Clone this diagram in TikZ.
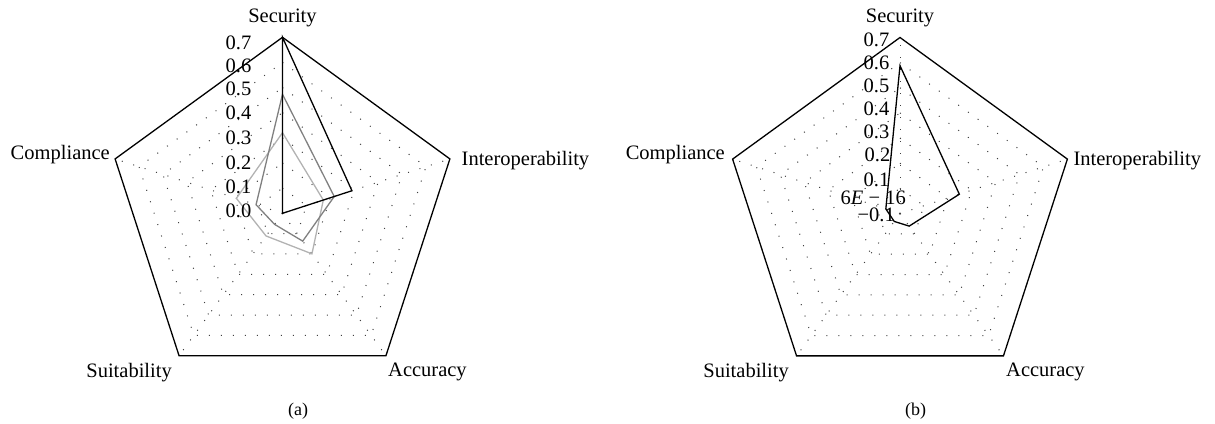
\documentclass[tikz,border=0pt]{standalone}
\usepackage{fontspec}
\setmainfont{Liberation Serif}
\usetikzlibrary{calc}
\tikzset{
  outer/.style={line width=1.3pt, black, line join=miter},
  gridline/.style={line width=1pt, dash pattern=on 1pt off 11pt, black!75},
  axlbl/.style={font=\fontsize{20.5}{24}\selectfont, inner sep=0pt},
  ticklbl/.style={font=\fontsize{20.5}{24}\selectfont, inner sep=0pt, anchor=east},
  caplbl/.style={font=\fontsize{18}{21}\selectfont, inner sep=0pt},
  serblack/.style={line width=1.3pt, black, line join=miter},
  serdark/.style={line width=1.3pt, black!50, line join=miter},
  serlight/.style={line width=1.3pt, black!30, line join=miter},
}
\begin{document}
\begin{tikzpicture}[x=1pt,y=1pt]
\useasboundingbox (0,-423) rectangle (1215,0);
\def\R{176}
\coordinate (A) at (282.5,-213.3);
\coordinate (B) at (900,-213.5);
\foreach \c in {A,B}{
  \foreach \k in {1,...,6}{
    \draw[gridline] ($(\c)+(90:\k*\R/7)$) -- ($(\c)+(18:\k*\R/7)$) -- ($(\c)+(-54:\k*\R/7)$) -- ($(\c)+(-126:\k*\R/7)$) -- ($(\c)+(162:\k*\R/7)$) -- cycle;
  }
  \coordinate (\c-s) at ($(\c)+(90:\R)$);
  \coordinate (\c-i) at ($(\c)+(18:\R)$);
  \coordinate (\c-a) at ($(\c)+(-54:\R)$);
  \coordinate (\c-u) at ($(\c)+(-126:\R)$);
  \coordinate (\c-c) at ($(\c)+(162:\R)$);
  \foreach \v in {s,i,a,u,c} \draw[gridline] (\c) -- (\c-\v);
  \draw[outer] (\c-s) -- (\c-i) -- (\c-a) -- (\c-u) -- (\c-c) -- cycle;
}
% series (a)
\draw[serlight] ($(A)+(90:80.6)$) -- ($(A)+(18:42.9)$) -- ($(A)+(-54:50.1)$) -- ($(A)+(-126:28)$) -- ($(A)+(162:48.5)$) -- cycle;
\draw[serdark] ($(A)+(90:119)$) -- ($(A)+(18:54.4)$) -- ($(A)+(-54:34.4)$) -- ($(A)+(-126:13.6)$) -- ($(A)+(162:27.8)$) -- cycle;
\draw[serblack] (A-s) -- ($(A)+(18:73)$) -- (A) -- cycle;
% series (b)
\draw[serblack] ($(B)+(90:147.8)$) -- ($(B)+(18:62.4)$) -- ($(B)+(-54:15.6)$) -- ($(B)+(-126:9.8)$) -- ($(B)+(162:14.9)$) -- cycle;
% axis labels (a)
\node[axlbl, anchor=base] (sa) at (282.5,-22.7) {Security};
\node[axlbl, anchor=base west] (ia) at (461.5,-165) {Interoperability};
\node[axlbl, anchor=base west] (aa) at (388,-376.5) {Accuracy};
\node[axlbl, anchor=base east] (ua) at (172,-377) {Suitability};
\node[axlbl, anchor=base east] (ca) at (110,-159.5) {Compliance};
% axis labels (b)
\node[axlbl, anchor=base] (sb) at (900,-22.7) {Security};
\node[axlbl, anchor=base west] (ib) at (1073.3,-165) {Interoperability};
\node[axlbl, anchor=base west] (ab) at (1006,-376.5) {Accuracy};
\node[axlbl, anchor=base east] (ub) at (789,-377) {Suitability};
\node[axlbl, anchor=base east] (cb) at (725,-159.5) {Compliance};
% ticks (a)
\node[ticklbl] (ta7) at (251.5,-43) {0.7};
\node[ticklbl] (ta6) at (251.5,-65.5) {0.6};
\node[ticklbl] (ta5) at (251.5,-89) {0.5};
\node[ticklbl] (ta4) at (251.5,-113) {0.4};
\node[ticklbl] (ta3) at (251.5,-137.5) {0.3};
\node[ticklbl] (ta2) at (251.5,-162.5) {0.2};
\node[ticklbl] (ta1) at (251.5,-187) {0.1};
\node[ticklbl] (ta0) at (251.5,-210.5) {0.0};
% ticks (b)
\node[ticklbl] (tb7) at (889.5,-39.5) {0.7};
\node[ticklbl] (tb6) at (889.5,-62.5) {0.6};
\node[ticklbl] (tb5) at (889.5,-85.5) {0.5};
\node[ticklbl] (tb4) at (889.5,-108.5) {0.4};
\node[ticklbl] (tb3) at (889.5,-131.5) {0.3};
\node[ticklbl] (tb2) at (890.5,-155) {0.2};
\node[ticklbl] (tb1) at (889.5,-180) {0.1};
\node[ticklbl] (tb0) at (906,-197.5) {6\textit{E} − 16};
\node[ticklbl] (tbm) at (895,-215) {−0.1};
% captions
\node[caplbl] (capa) at (298,-411) {(a)};
\node[caplbl] (capb) at (915.5,-411) {(b)};
\end{tikzpicture}
\end{document}
